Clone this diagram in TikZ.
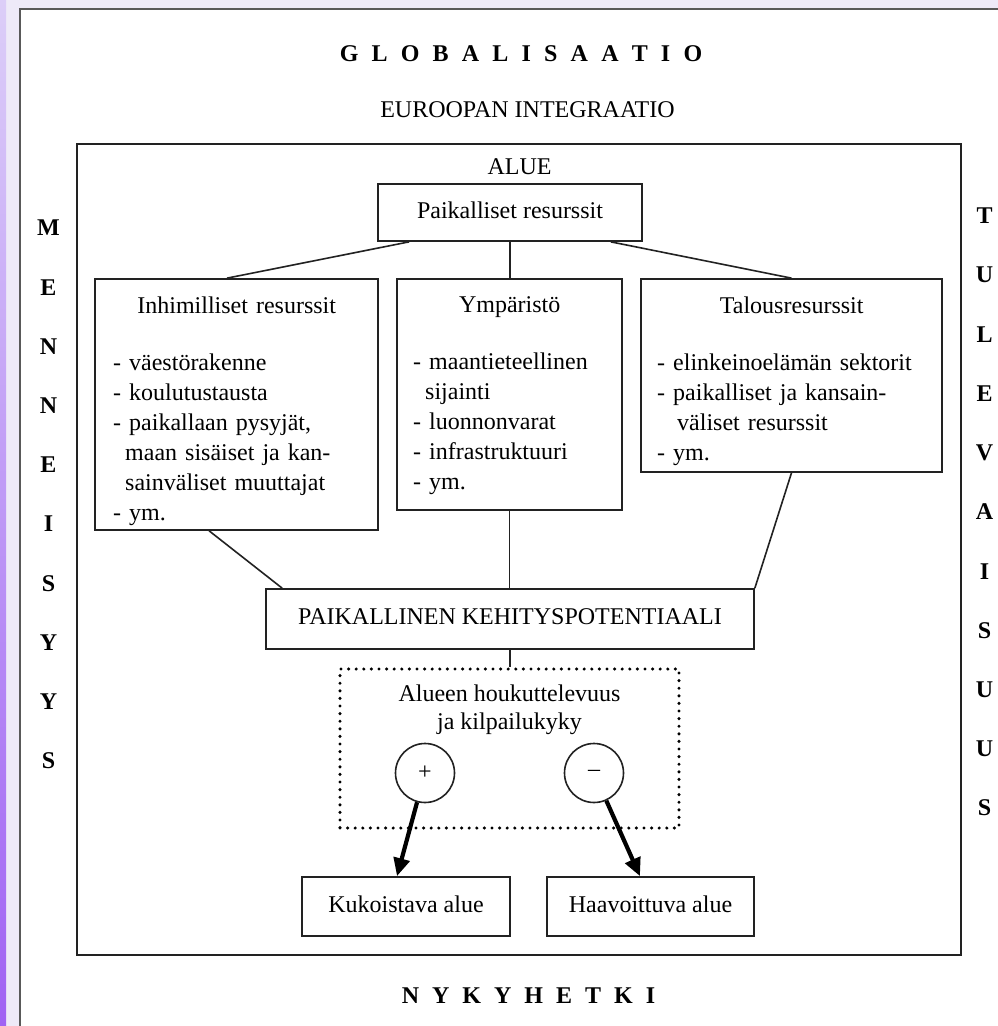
\documentclass[tikz,border=0pt]{standalone}
\usepackage{fontspec}
\setmainfont{Liberation Serif}
\usetikzlibrary{arrows.meta}

\definecolor{lavbg}{HTML}{EEEAF8}
\definecolor{stripA}{HTML}{DCCEF8}
\definecolor{stripB}{HTML}{A062F3}
\definecolor{lineg}{HTML}{222222}

\newcommand{\txtsize}{\fontsize{24}{30}\selectfont}

\tikzset{
  box/.style={draw=lineg, line width=1.7pt, inner sep=0pt, text height=16pt, text depth=5pt},
  listtxt/.style={inner sep=0pt, anchor=north west},
  hd/.style={font=\txtsize\bfseries, inner sep=0pt},
  link/.style={draw=lineg, line width=1.6pt},
  pull/.style={line width=4.2pt, -{Triangle[length=18pt,width=16pt]}},
  sign/.style={circle, draw=lineg, line width=1.6pt, minimum size=59pt, inner sep=0pt},
  dotbox/.style={draw=black, line width=3.4pt, dash pattern=on 0pt off 7.6pt, line cap=round, inner sep=0pt}
}

\begin{document}
\begin{tikzpicture}[x=1pt, y=-1pt, font=\txtsize]
  \useasboundingbox (0,0) rectangle (998,1026);
  \clip (0,0) rectangle (998,1026);

  %%page
  \fill[lavbg] (0,0) rectangle (998,1026);
  \shade[top color=stripA, bottom color=stripB] (0,0) rectangle (6,1026);
  \filldraw[fill=white, draw=black!65, line width=1.8pt] (20,9) rectangle (1012,1040);

  %%titles
  \node[hd] (glob) at (521,54) {\spaceskip=13.2pt G L O B A L I S A A T I O};
  \node[inner sep=0pt] (euro) at (527.5,110) {EUROOPAN INTEGRAATIO};
  \node[hd] (nyky) at (528.5,996) {\spaceskip=13pt N Y K Y H E T K I};

  %%menneisyys
  \node[hd] (m1) at (48.5,228) {M};
  \node[hd] (m2) at (48.5,287.2) {E};
  \node[hd] (m3) at (48.5,346.4) {N};
  \node[hd] (m4) at (48.5,405.6) {N};
  \node[hd] (m5) at (48.5,464.8) {E};
  \node[hd] (m6) at (48.5,524) {I};
  \node[hd] (m7) at (48.5,583.2) {S};
  \node[hd] (m8) at (48.5,642.4) {Y};
  \node[hd] (m9) at (48.5,701.6) {Y};
  \node[hd] (m10) at (48.5,760.8) {S};

  %%tulevaisuus
  \node[hd] (t1) at (984.5,216) {T};
  \node[hd] (t2) at (984.5,275.2) {U};
  \node[hd] (t3) at (984.5,334.4) {L};
  \node[hd] (t4) at (984.5,393.6) {E};
  \node[hd] (t5) at (984.5,452.8) {V};
  \node[hd] (t6) at (984.5,512) {A};
  \node[hd] (t7) at (984.5,571.2) {I};
  \node[hd] (t8) at (984.5,630.4) {S};
  \node[hd] (t9) at (984.5,689.6) {U};
  \node[hd] (t10) at (984.5,748.8) {U};
  \node[hd] (t11) at (984.5,808) {S};

  %%alue
  \node[draw=lineg, line width=1.9pt, minimum width=884pt, minimum height=811pt] (alue) at (519,549.5) {};
  \node[inner sep=0pt] (aluetxt) at (519.5,167) {ALUE};

    \node[box, minimum width=264pt, minimum height=57pt] (paik) at (510,212.5) {Paikalliset resurssit};

    %%resurssit
    \node[box, minimum width=283pt, minimum height=251pt] (inh) at (236.5,404.5) {};
    \node[listtxt, text width=247pt] (inhtxt) at (113,296.5) {\parindent=0pt
      {\centering Inhimilliset resurssit\par}\vspace{27pt}\raggedright
      - väestörakenne\par
      - koulutustausta\par
      - paikallaan pysyjät,\par
      \hspace*{12pt}maan sisäiset ja kan-\par
      \hspace*{12pt}sainväliset muuttajat\par
      - ym.\par};

    \node[box, minimum width=225pt, minimum height=231pt] (ymp) at (509.5,394.5) {};
    \node[listtxt, text width=193pt] (ymptxt) at (413,296.5) {\parindent=0pt
      {\centering Ympäristö\par}\vspace{27pt}\raggedright
      - maantieteellinen\par
      \hspace*{12pt}sijainti\par
      - luonnonvarat\par
      - infrastruktuuri\par
      - ym.\par};

    \node[box, minimum width=301pt, minimum height=193pt] (tal) at (791.5,375.5) {};
    \node[listtxt, text width=269pt] (taltxt) at (657,296.5) {\parindent=0pt
      {\centering Talousresurssit\par}\vspace{27pt}\raggedright
      - elinkeinoelämän sektorit\par
      - paikalliset ja kansain-\par
      \hspace*{20pt}väliset resurssit\par
      - ym.\par};

    \draw[link] ([xshift=32pt]paik.south west) to ([xshift=-9.5pt]inh.north);
    \draw[link] (paik.south) to (paik.south |- ymp.north);
    \draw[link] ([xshift=-32pt]paik.south east) to (tal.north);

    %%potentiaali
    \node[box, minimum width=488pt, minimum height=60pt] (pk) at (510,619) {PAIKALLINEN KEHITYSPOTENTIAALI};

    \draw[link] ([xshift=115pt]inh.south west) to ([xshift=17pt]pk.north west);
    \draw[link] (ymp.south) to (ymp.south |- pk.north);
    \draw[link] (tal.south) to (pk.north east);

    %%houkuttelevuus
    \node[dotbox, minimum width=339pt, minimum height=159pt] (dot) at (509.5,748.5) {};
    \node[inner sep=0pt, align=center] (dottxt) at (509.5,710) {Alueen houkuttelevuus\\[-2pt]ja kilpailukyky};
    \draw[link] (pk.south) to (pk.south |- dot.north);

      \node[sign] (plus) at (425,773) {+};
      \node[sign] (minus) at (594,773) {–};

    %%tulos
    \node[box, minimum width=208pt, minimum height=59pt] (kuk) at (406,906.5) {Kukoistava alue};
    \node[box, minimum width=207pt, minimum height=59pt] (hav) at (650.5,906.5) {Haavoittuva alue};

    \draw[pull] (plus) to ([xshift=-9pt]kuk.north);
    \draw[pull] (minus) to ([xshift=-10.5pt]hav.north);

\end{tikzpicture}
\end{document}
